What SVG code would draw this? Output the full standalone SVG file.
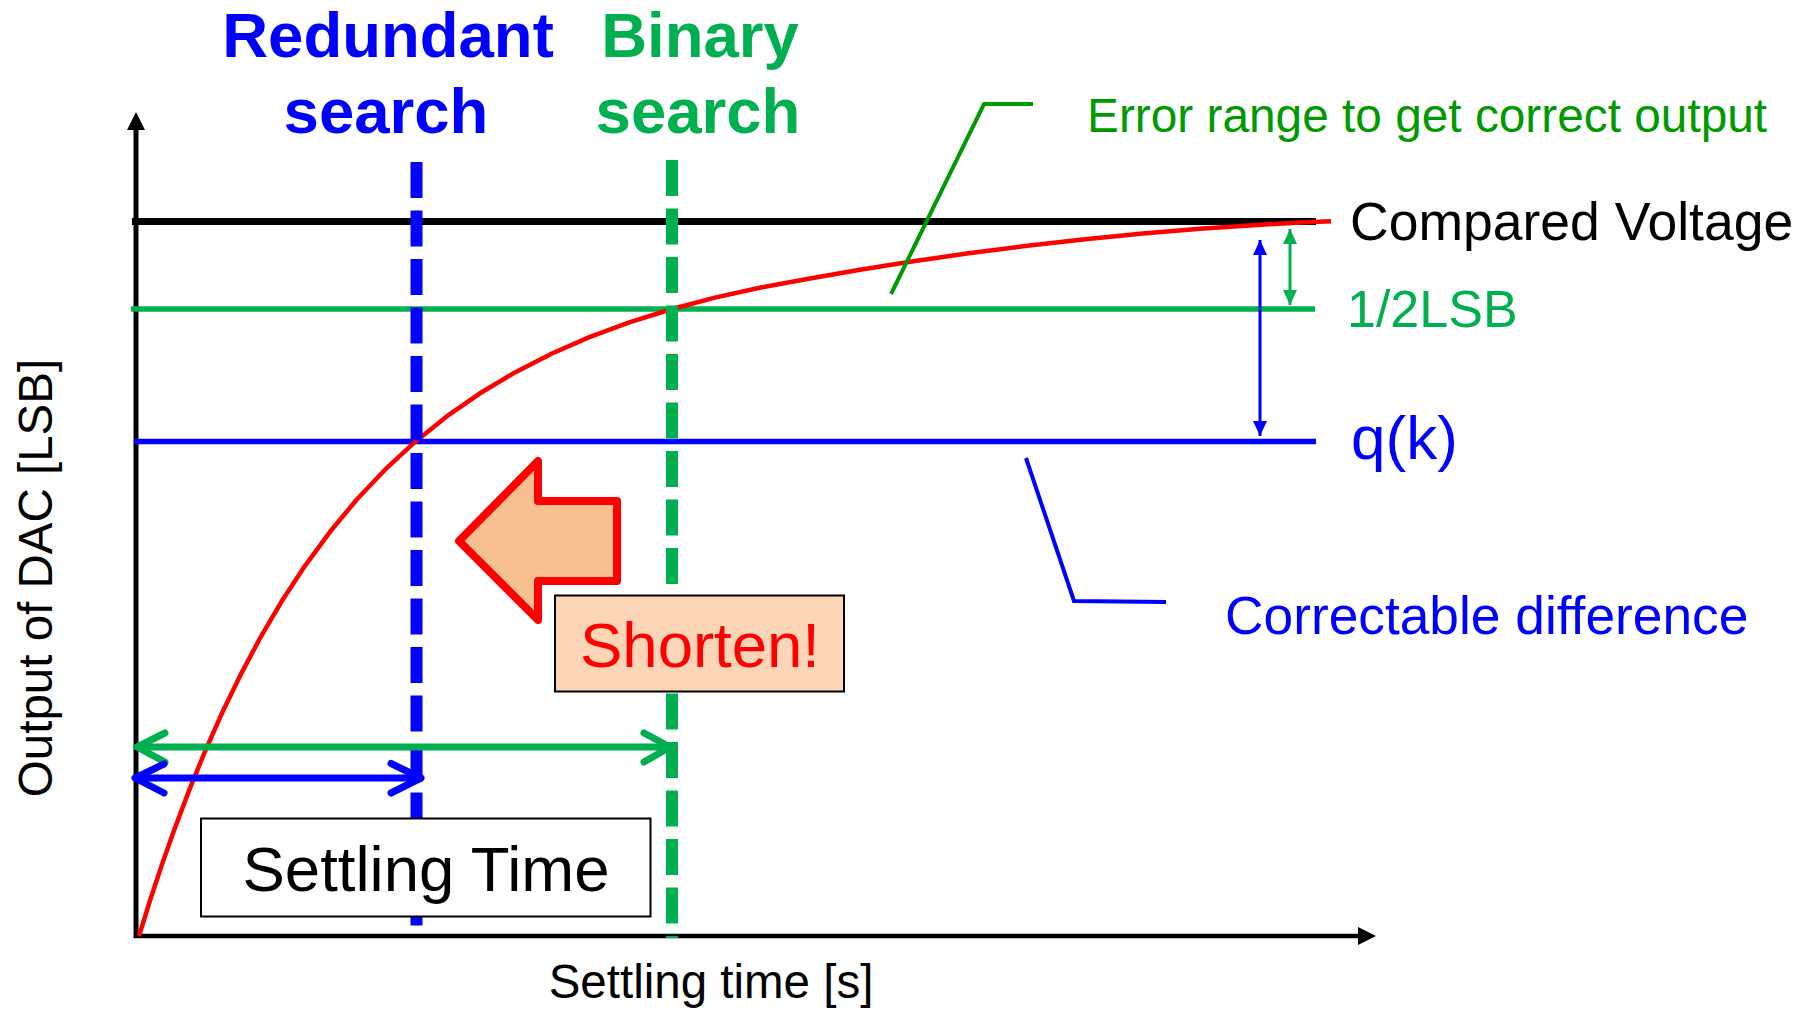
<svg xmlns="http://www.w3.org/2000/svg" width="1798" height="1009" viewBox="0 0 1798 1009">
  <style>
    text { font-family: "Liberation Sans", Arial, Helvetica, sans-serif; }
    .bold { font-weight: bold; font-size: 63.5px; text-anchor: middle; }
    .blue { fill: #0000FF; }
    .green { fill: #00B050; }
    .dgreen { fill: #009A00; }
    .axis { stroke: #000; fill: none; }
    .dash { stroke-width: 12; stroke-dasharray: 36 12.5; fill: none; }
    .chev { fill: none; stroke-width: 7; stroke-linecap: round; stroke-linejoin: round; }
    .thin { stroke-width: 3; fill: none; }
    .box { stroke: #000; stroke-width: 2; }
  </style>
  <defs>
    <marker id="headBlue" viewBox="0 0 15 14" refX="15" refY="7" markerWidth="15" markerHeight="14" markerUnits="userSpaceOnUse" orient="auto-start-reverse">
      <path d="M0,0 L15,7 L0,14 Z" fill="#0000FF"/>
    </marker>
    <marker id="headGreen" viewBox="0 0 15 14" refX="15" refY="7" markerWidth="15" markerHeight="14" markerUnits="userSpaceOnUse" orient="auto-start-reverse">
      <path d="M0,0 L15,7 L0,14 Z" fill="#00B050"/>
    </marker>
  </defs>

  <rect width="1798" height="1009" fill="#fff"/>

  <!-- axes -->
  <g id="axes">
    <line class="axis" x1="136" y1="128" x2="136" y2="938" stroke-width="5"/>
    <polygon points="136,112 127,130 145,130" fill="#000"/>
    <line class="axis" x1="134" y1="936" x2="1360" y2="936" stroke-width="4.5"/>
    <polygon points="1376,936 1358,927 1358,945" fill="#000"/>
    <text x="711" y="998" font-size="47.5" text-anchor="middle">Settling time [s]</text>
    <text transform="rotate(-90)" x="-578" y="52" font-size="47.5" text-anchor="middle">Output of DAC [LSB]</text>
  </g>

  <!-- reference levels -->
  <g id="compared-voltage">
    <line x1="132" y1="221.5" x2="1316" y2="221.5" stroke="#000" stroke-width="7"/>
    <text x="1350" y="240" font-size="53.5">Compared Voltage</text>
  </g>
  <g id="half-lsb">
    <line x1="131" y1="309" x2="1315" y2="309" stroke="#00B050" stroke-width="5.5"/>
    <text class="green" x="1347" y="327" font-size="52">1/2LSB</text>
  </g>
  <g id="qk">
    <line x1="134" y1="441.5" x2="1316" y2="441.5" stroke="#0000FF" stroke-width="5.5"/>
    <text class="blue" x="1351" y="459" font-size="62">q(k)</text>
  </g>

  <!-- settling curve of the DAC output -->
  <g id="settling-curve">
    <polyline points="139,936 150,900.6 162,864.4 175,827.7 190,788.1 205,751.5 222,713.1 240,675.9 260,638.2 282,600.8 305,565.8 330,531.8 357,499.3 385,469.7 415,441.9 447,416.2 480,393.3 515,372.4 552,353.5 590,336.9 630,322.1 672,309 716,297.4 762,287.3 810,278.5 860,269.8 910,261.8 965,253.8 1025,246 1085,239.2 1143,233.5 1200,228.7 1261,224.7 1300,222.6 1331,221.2" fill="none" stroke="#FF0000" stroke-width="4.5" stroke-linejoin="round"/>
  </g>

  <!-- search timing markers -->
  <g id="redundant-search">
    <line class="dash" x1="416.5" y1="162" x2="416.5" y2="928" stroke="#0000FF"/>
    <text class="bold blue" x="388" y="57">Redundant</text>
    <text class="bold blue" x="386" y="133">search</text>
  </g>
  <g id="binary-search">
    <line class="dash" x1="672" y1="160" x2="672" y2="938" stroke="#00B050"/>
    <text class="bold green" x="700" y="57">Binary</text>
    <text class="bold green" x="698" y="133">search</text>
  </g>

  <!-- annotation labels -->
  <g id="error-range">
    <text class="dgreen" x="1087" y="132" font-size="47.8">Error range to get correct output</text>
  </g>
  <g id="correctable-difference">
    <text class="blue" x="1225" y="634" font-size="53.3">Correctable difference</text>
  </g>

  <!-- Shorten! callout -->
  <g id="shorten-arrow">
    <polygon points="459,541 538,461 538,501 617,501 617,581 538,581 538,620" fill="#F8C091" stroke="#FF0000" stroke-width="8" stroke-linejoin="round"/>
  </g>
  <g id="shorten-box">
    <rect class="box" x="555" y="595.5" width="289" height="96" fill="#FBD5B5"/>
    <text x="700" y="667" font-size="63.5" text-anchor="middle" fill="#FF0000">Shorten!</text>
  </g>

  <!-- Settling Time label -->
  <g id="settling-time">
    <rect class="box" x="201" y="818.5" width="449.5" height="98" fill="#fff"/>
    <text x="426" y="891" font-size="63.5" text-anchor="middle">Settling Time</text>
  </g>

  <!-- connectors -->
  <g id="connectors">
    <!-- leader lines -->
    <polyline points="1033,104 984,104 891,294" fill="none" stroke="#009900" stroke-width="4"/>
    <polyline points="1026,458 1074,601 1166,602" fill="none" stroke="#0000FF" stroke-width="4"/>
    <!-- level differences -->
    <line class="thin" x1="1260" y1="240" x2="1260" y2="436" stroke="#0000FF" marker-start="url(#headBlue)" marker-end="url(#headBlue)"/>
    <line class="thin" x1="1290" y1="229" x2="1290" y2="305" stroke="#00B050" marker-start="url(#headGreen)" marker-end="url(#headGreen)"/>
    <!-- settling time spans -->
    <g stroke="#00B050">
      <line x1="137" y1="747" x2="670" y2="747" stroke-width="7"/>
      <polyline class="chev" points="165,733 137,747 165,762"/>
      <polyline class="chev" points="644,733 670,747 644,762"/>
    </g>
    <g stroke="#0000FF">
      <line x1="135" y1="778" x2="423" y2="778" stroke-width="7"/>
      <polyline class="chev" points="164,764 135,778 164,793"/>
      <polyline class="chev" points="391,763.5 421,778 391,793"/>
    </g>
  </g>
</svg>
